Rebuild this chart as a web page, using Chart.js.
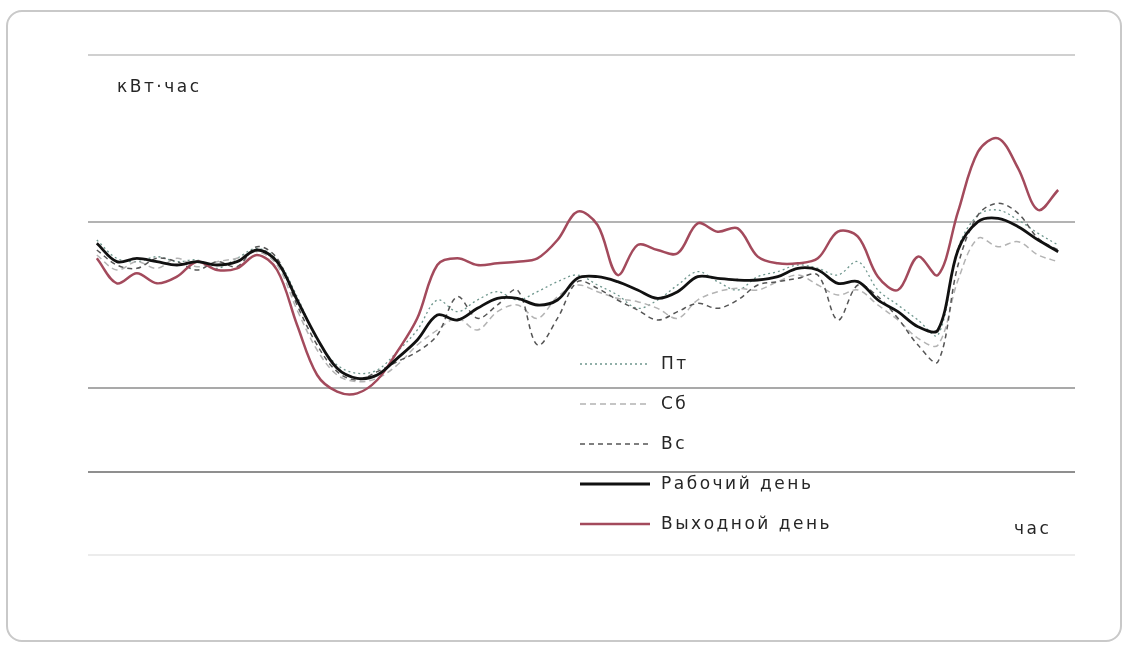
<!DOCTYPE html>
<html>
<head>
<meta charset="utf-8">
<script src="https://cdn.jsdelivr.net/npm/chart.js@4.4.1/dist/chart.umd.min.js"></script>
<style>
  html, body { margin: 0; padding: 0; background: #fff; }
  #card {
    position: absolute; left: 6px; top: 10px; width: 1112px; height: 628px;
    border: 2px solid #c9c9c9; border-radius: 16px;
  }
  #wrap { position: absolute; left: 0; top: 0; width: 1129px; height: 646px; }
</style>
</head>
<body>
<div id="card"></div>
<div id="wrap"><canvas id="c"></canvas></div>
<script>
// hours, half-hour step
const HOURS = [0,0.5,1,1.5,2,2.5,3,3.5,4,4.5,5,5.5,6,6.5,7,7.5,8,8.5,9,9.5,10,10.5,11,11.5,
  12,12.5,13,13.5,14,14.5,15,15.5,16,16.5,17,17.5,18,18.5,19,19.5,20,20.5,21,21.5,22,22.5,23,23.5,24];

const FRI = [189,178,176,179,176,177,172,178,184,177,155,129,114,109,111,122,135,153,146,153,158,153,158,164,
  168,162,156,148,153,162,170,164,159,167,170,174,172,168,176,159,150,141,132,184,204,207,201,193,186];
const SAT = [180,171,176,172,178,173,176,178,182,174,147,123,108,104,106,114,126,135,142,135,146,150,142,155,
  162,158,154,152,148,142,153,158,160,159,164,168,162,156,159,150,141,130,126,165,190,185,188,180,176];
const SUN = [183,174,172,178,176,171,176,173,185,178,150,126,110,105,110,116,122,132,155,142,150,159,126,142,
  164,160,153,147,141,146,151,148,153,162,164,166,168,141,162,155,142,126,116,174,204,211,205,190,183];
const WORKDAY = [187,176,178,176,174,176,174,176,183,176,153,130,112,106,108,118,129,144,141,148,154,154,150,153,
  166,167,164,159,154,158,167,166,165,165,167,172,171,163,164,153,146,137,135,183,200,202,197,189,182];
const HOLIDAY = [178,163,169,163,167,176,171,172,180,171,138,108,98,97,105,122,142,174,178,174,175,176,178,189,
  206,198,168,186,183,181,199,194,196,179,175,175,178,194,191,167,159,179,168,206,242,250,232,207,219];

const GRID_TICKS = [0, 50, 100, 200, 300];
const Y_TITLE = 'кВт·час';
const X_TITLE = 'час';

const pts = arr => arr.map((v, i) => ({x: HOURS[i], y: v}));

const FONT = '17px "DejaVu Sans"';

const overlay = {
  id: 'overlay',
  afterDraw(chart) {
    const ctx = chart.ctx;
    ctx.save();
    ctx.font = FONT;
    ctx.letterSpacing = '2.5px';
    ctx.fillStyle = '#262626';
    ctx.textBaseline = 'middle';
    ctx.textAlign = 'left';
    ctx.fillText(Y_TITLE, 117, 88);
    ctx.fillText(X_TITLE, 1014, 530);

    // legend in the middle of the plot
    const rows = [364, 404, 444, 484, 524];
    chart.data.datasets.forEach((ds, i) => {
      const y = rows[i];
      ctx.beginPath();
      ctx.strokeStyle = ds.borderColor;
      ctx.lineWidth = ds.borderWidth;
      ctx.setLineDash(ds.borderDash || []);
      ctx.moveTo(580, y);
      ctx.lineTo(650, y);
      ctx.stroke();
      ctx.setLineDash([]);
      ctx.fillText(ds.label, 661, y + 1);
    });
    ctx.restore();
  }
};

new Chart(document.getElementById('c'), {
  type: 'line',
  data: {
    datasets: [
      {label: 'Пт', data: pts(FRI), borderColor: '#6e968d', borderWidth: 1.3, borderDash: [2, 3], order: 4},
      {label: 'Сб', data: pts(SAT), borderColor: '#b3b3b3', borderWidth: 1.5, borderDash: [6, 4], order: 3},
      {label: 'Вс', data: pts(SUN), borderColor: '#555555', borderWidth: 1.5, borderDash: [5, 4], order: 2},
      {label: 'Рабочий день', data: pts(WORKDAY), borderColor: '#111111', borderWidth: 2.8, order: 0},
      {label: 'Выходной день', data: pts(HOLIDAY), borderColor: '#a34a5c', borderWidth: 2.5, order: 1}
    ]
  },
  options: {
    responsive: true,
    maintainAspectRatio: false,
    animation: false,
    layout: {padding: {left: 88, right: 54, top: 55, bottom: 91}},
    elements: {point: {radius: 0}, line: {tension: 0.35, fill: false}},
    plugins: {legend: {display: false}, tooltip: {enabled: false}},
    scales: {
      x: {type: 'linear', min: -0.22, max: 24.42, display: false},
      y: {
        min: 0, max: 300,
        afterBuildTicks: s => { s.ticks = GRID_TICKS.map(v => ({value: v})); },
        ticks: {display: false},
        border: {display: false},
        grid: {
          drawTicks: false,
          lineWidth: 2,
          color: c => ({0: '#ececec', 50: '#8f8f8f', 100: '#a9a9a9', 200: '#b3b3b3', 300: '#d0d0d0'})[c.tick.value]
        }
      }
    }
  },
  plugins: [overlay]
});
</script>
</body>
</html>
